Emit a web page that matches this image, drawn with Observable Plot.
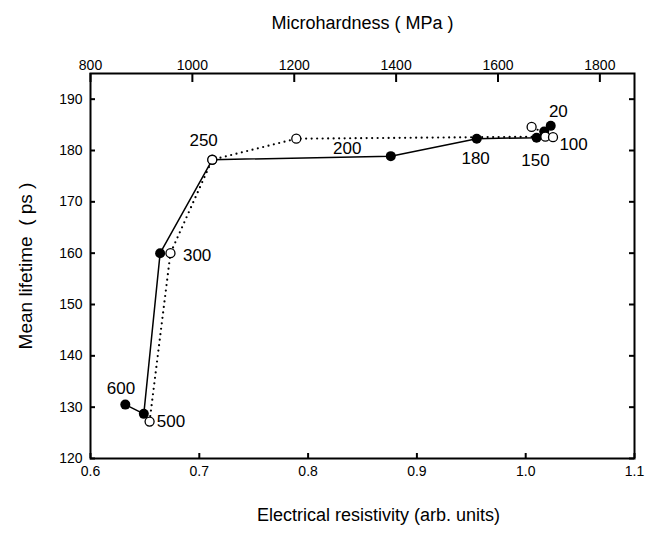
<!DOCTYPE html>
<html><head><meta charset="utf-8">
<script src="https://cdn.jsdelivr.net/npm/d3@7"></script>
<script src="https://cdn.jsdelivr.net/npm/@observablehq/plot@0.6"></script>
<style>
body{margin:0;background:#fff;}
#chart{position:relative;width:667px;height:533px;background:#fff;}
#chart svg{position:absolute;left:0;top:0;}
</style></head><body><div id="chart"></div>
<script>
// Filled circles: mean lifetime vs electrical resistivity (bottom axis)
const tempsFilled = [600, 500, 300, 250, 200, 180, 150, 100, 20];
const resistivity = [0.632, 0.649, 0.664, 0.712, 0.876, 0.955, 1.010, 1.017, 1.023];
const lifetimeFilled = [130.5, 128.7, 160.0, 178.2, 178.9, 182.3, 182.5, 183.7, 184.8];
// Open circles: mean lifetime vs microhardness (top axis)
const tempsOpen = [500, 300, 250, 200, 150, 100, 20];
const hardness = [916, 957, 1039, 1204, 1693, 1708, 1666];
const lifetimeOpen = [127.2, 160.0, 178.2, 182.3, 182.7, 182.6, 184.6];
// Annealing temperature labels (in resistivity / lifetime coordinates)
const labelText = ["600", "500", "300", "250", "200", "180", "150", "100", "20"];
const labelX = [0.628, 0.674, 0.698, 0.704, 0.836, 0.954, 1.009, 1.044, 1.030];
const labelY = [133.7, 127.2, 159.6, 181.9, 180.3, 178.5, 178.0, 181.1, 187.5];
// Ticks
const yTicks = [120, 130, 140, 150, 160, 170, 180, 190];
const xTicks = [0.6, 0.7, 0.8, 0.9, 1.0, 1.1];
const hTicks = [800, 1000, 1200, 1400, 1600, 1800];
const xTitle = "Electrical resistivity (arb. units)";
const topTitle = "Microhardness ( MPa )";
const yTitle = "Mean lifetime\u00a0 ( ps )";

const filled = tempsFilled.map((t, i) => ({t, x: resistivity[i], y: lifetimeFilled[i]}));
const open = tempsOpen.map((t, i) => ({t, x: hardness[i], y: lifetimeOpen[i]}));
const labels = labelText.map((s, i) => ({s, x: labelX[i], y: labelY[i]}));

const W = 667, H = 533, ML = 90, MR = 33, MT = 73, MB = 75;
const FW = W - ML - MR, FH = H - MT - MB;
const common = {
  width: W, height: H,
  marginLeft: ML, marginRight: MR, marginTop: MT, marginBottom: MB,
  style: {fontFamily: "'Liberation Sans', Arial, sans-serif", fontSize: "14px", background: "transparent", color: "#000", overflow: "visible"}
};

const p1 = Plot.plot({
  ...common,
  x: {domain: [0.6, 1.1], label: null},
  y: {domain: [120, 195], label: null},
  marks: [
    Plot.line(filled, {x: "x", y: "y", stroke: "#000", strokeWidth: 1.5}),
    Plot.dot(filled, {x: "x", y: "y", r: 5, fill: "#000"}),
    Plot.text(labels, {x: "x", y: "y", text: "s", fontSize: 17, fill: "#000"}),
    // inward ticks
    Plot.ruleX(xTicks, {x: d => d, stroke: "#000", strokeWidth: 2, insetTop: FH - 5}),
    Plot.ruleY(yTicks, {y: d => d, stroke: "#000", strokeWidth: 2, insetRight: FW - 5}),
    Plot.ruleY(yTicks, {y: d => d, stroke: "#000", strokeWidth: 2, insetLeft: FW - 5}),
    Plot.axisX({ticks: xTicks, tickSize: 0, tickPadding: 8, tickFormat: d => d.toFixed(1), fontSize: 14, label: null}),
    Plot.axisY({ticks: yTicks, tickSize: 0, tickPadding: 8, fontSize: 14, label: null}),
    Plot.frame({strokeWidth: 2, stroke: "#000"}),
    Plot.text([xTitle], {frameAnchor: "bottom", dx: 16, dy: 62, fontSize: 18, fill: "#000"}),
    Plot.text([yTitle], {frameAnchor: "left", textAnchor: "middle", dx: -65, rotate: -90, fontSize: 19, fill: "#000"})
  ]
});

const p2 = Plot.plot({
  ...common,
  x: {domain: [800, 1868], label: null},
  y: {domain: [120, 195], label: null, axis: null},
  marks: [
    Plot.line(open, {x: "x", y: "y", stroke: "#000", strokeWidth: 2.2, strokeDasharray: "0,5.5", strokeLinecap: "round"}),
    Plot.dot(open, {x: "x", y: "y", r: 4.5, fill: "#fff", stroke: "#000", strokeWidth: 1.3}),
    Plot.ruleX(hTicks, {x: d => d, stroke: "#000", strokeWidth: 2, insetBottom: FH - 9}),
    Plot.axisX({anchor: "top", ticks: hTicks, tickSize: 0, tickPadding: 4, tickFormat: d3.format("d"), fontSize: 14, label: null}),
    Plot.text([topTitle], {frameAnchor: "top", dy: -57, fontSize: 18, fill: "#000"})
  ]
});

const c = document.getElementById("chart");
c.appendChild(p1);
c.appendChild(p2);
</script></body></html>
